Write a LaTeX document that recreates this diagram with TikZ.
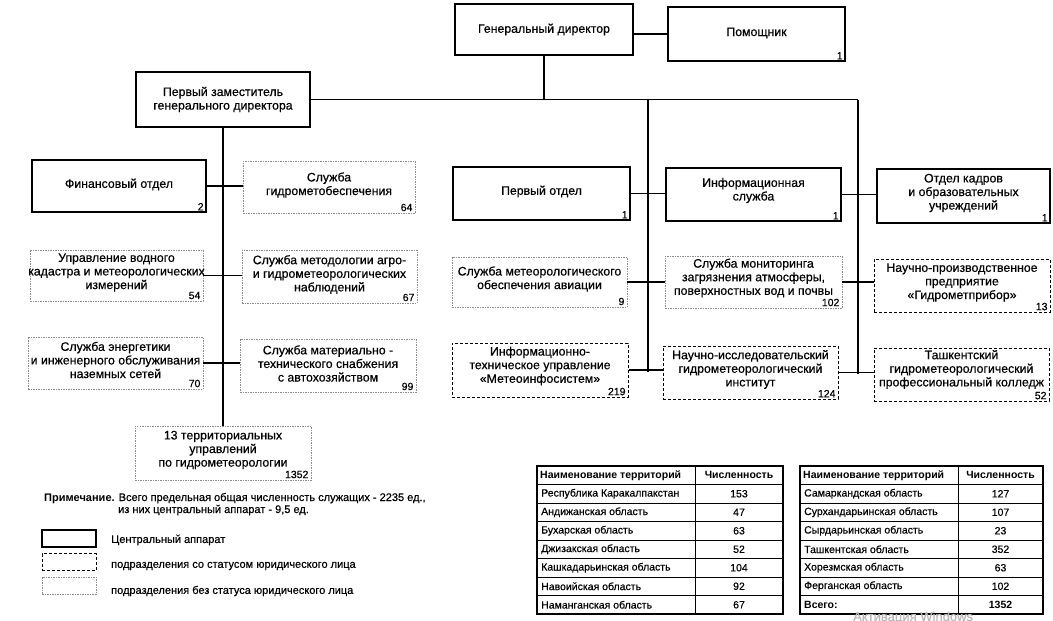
\documentclass[tikz,border=0pt]{standalone}
\usepackage{fontspec}
\setmainfont{Liberation Sans}[UprightFeatures={FakeBold=0.5}]
\usetikzlibrary{calc}
\tikzset{
  shp/.style={rectangle, inner sep=0pt},
  central/.style={shp, draw, line width=1.2pt},
  legal/.style={shp, draw, line width=1pt, dash pattern=on 3pt off 2pt},
  unit/.style={shp, draw=black!45, line width=0.8pt, dash pattern=on 1.5pt off 1pt},
  bxtext/.style={align=center, inner sep=0pt, font=\fontsize{12.3}{13.6}\selectfont},
  num/.style={anchor=south east, inner xsep=2.8pt, inner ysep=2pt, font=\fontsize{10.5}{10.5}\selectfont},
  conn/.style={line width=1.2pt},
  legtext/.style={anchor=west, inner sep=0pt, font=\fontsize{11}{12}\selectfont},
  cell/.style={inner sep=0pt, font=\fontsize{10.5}{12}\selectfont},
  hcell/.style={cell, font=\fontsize{10.5}{12}\selectfont\bfseries},
  outer/.style={line width=1.1pt},
  inner/.style={line width=0.8pt},
}
% name, style, x1, y1, x2, y2, text, upward shift of text
\newcommand\orgbox[8]{%
  \node[#2, minimum width={#5-#3}, minimum height={#6-#4}] (#1) at ({(#3+#5)/2},{(#4+#6)/2}) {};
  \node[bxtext] (#1t) at ($(#1.center)+(0,-#8)$) {#7};}
\newcommand\orgnum[2]{\node[num] (#1n) at (#1.south east) {#2};}
\begin{document}
\begin{tikzpicture}[x=1pt,y=-1pt]
\useasboundingbox (0,0) rectangle (1053,621);

% top
\orgbox{gd}{central}{455}{4}{633}{55}{Генеральный директор}{0}
\orgbox{pom}{central}{668}{7}{845}{61}{Помощник}{1}\orgnum{pom}{1}
\orgbox{fd}{central}{136}{72}{310}{127}{Первый заместитель\\генерального директора}{0}

% left block
\orgbox{fin}{central}{32}{160}{206}{212}{Финансовый отдел}{1.5}\orgnum{fin}{2}
\orgbox{ghm}{unit}{243}{161}{415}{213}{Служба\\гидрометобеспечения}{2}\orgnum{ghm}{64}
\orgbox{kad}{unit}{30}{250}{203}{301}{Управление водного\\кадастра и метеорологических\\измерений}{3}\orgnum{kad}{54}
\orgbox{mtd}{unit}{242}{250}{417}{303}{Служба методологии агро-\\и гидрометеорологических\\наблюдений}{2}\orgnum{mtd}{67}
\orgbox{enr}{unit}{28}{337}{203}{389}{Служба энергетики\\и инженерного обслуживания\\наземных сетей}{3}\orgnum{enr}{70}
\orgbox{mts}{unit}{240}{339}{416}{392}{Служба материально -\\технического снабжения\\с автохозяйством}{2}\orgnum{mts}{99}
\orgbox{ter}{unit}{135}{426}{311}{480}{13 территориальных\\управлений\\по гидрометеорологии}{3}\orgnum{ter}{1352}

% right block
\orgbox{po}{central}{453}{167}{630}{220}{Первый отдел}{2}\orgnum{po}{1}
\orgbox{inf}{central}{666}{168}{841}{221}{Информационная\\служба}{4}\orgnum{inf}{1}
\orgbox{ok}{central}{877}{169}{1050}{223}{Отдел кадров\\и образовательных\\учреждений}{3}\orgnum{ok}{1}
\orgbox{avi}{unit}{452}{257}{627}{307}{Служба метеорологического\\обеспечения авиации}{3}\orgnum{avi}{9}
\orgbox{mon}{unit}{665}{256}{842}{308}{Служба мониторинга\\загрязнения атмосферы,\\поверхностных вод и почвы}{4}\orgnum{mon}{102}
\orgbox{npp}{legal}{874}{259}{1050}{312}{Научно-производственное\\предприятие\\«Гидрометприбор»}{3}\orgnum{npp}{13}
\orgbox{itu}{legal}{452}{343}{628}{397}{Информационно-\\техническое управление\\«Метеоинфосистем»}{4}\orgnum{itu}{219}
\orgbox{nii}{legal}{663}{346}{838}{399}{Научно-исследовательский\\гидрометеорологический\\институт}{3}\orgnum{nii}{124}
\orgbox{tash}{legal}{874}{348}{1049}{401}{Ташкентский\\гидрометеорологический\\профессиональный колледж}{5}\orgnum{tash}{52}

% connectors
\coordinate (vm1) at (648,99.5);
\coordinate (vm2) at (648,372);
\coordinate (vr1) at (858,99.5);
\coordinate (vr2) at (858,374);
\draw[conn] (gd.east |- pom.west) -- (pom.west);
\draw[conn] (gd.south) -- (gd.south |- fd.east);
\draw[conn] (fd.east) -- (vr1);
\draw[conn] (vm1) -- (vm2);
\draw[conn] (vr1) -- (vr2);
\draw[conn] (po.east) -- (po.east -| inf.west);
\draw[conn] (inf.east) -- (inf.east -| ok.west);
\draw[conn] (avi.east) -- (avi.east -| mon.west);
\draw[conn] (mon.east) -- (mon.east -| npp.west);
\draw[conn] (itu.east) -- (itu.east -| nii.west);
\draw[conn] (nii.east) -- (nii.east -| tash.west);
\draw[conn] (fd.south) -- (fd.south |- ter.north);
\draw[conn] (fin.east) -- (fin.east -| ghm.west);
\draw[conn] (kad.east) -- (kad.east -| mtd.west);
\draw[conn] (enr.east) -- (enr.east -| mts.west);

% note and legend
\node[anchor=base west, inner sep=0pt, font=\fontsize{11}{12}\selectfont] (note1) at (44,501)
  {\textbf{Примечание.} Всего предельная общая численность служащих - 2235 ед.,};
\node[anchor=base west, inner sep=0pt, font=\fontsize{11}{12}\selectfont] (note2) at (118,513)
  {из них центральный аппарат - 9,5 ед.};
\node[draw, line width=1.2pt, minimum width=54, minimum height=17, inner sep=0pt] (lg1) at (69,538.5) {};
\node[draw, line width=1pt, dash pattern=on 3pt off 2pt, minimum width=54, minimum height=17, inner sep=0pt] (lg2) at (69,562) {};
\node[draw=black!45, line width=0.8pt, dash pattern=on 1.5pt off 1pt, minimum width=54, minimum height=17, inner sep=0pt] (lg3) at (69,585.5) {};
\node[legtext] (lt1) at (111,540) {Центральный аппарат};
\node[legtext] (lt2) at (111,566) {подразделения со статусом юридического лица};
\node[legtext] (lt3) at (111,591) {подразделения без статуса юридического лица};

% left table
\draw[outer] (537,466) rectangle (783,614);
\draw[inner] (695,466) -- (695,614);
\foreach \i in {1,...,7} \draw[inner] (537,{466+18.5*\i}) -- (783,{466+18.5*\i});
\node[hcell, anchor=west] (lh1) at (540,475.25) {Наименование территорий};
\node[hcell] (lh2) at (739,475.25) {Численность};
\foreach \t/\n [count=\i] in {Республика Каракалпакстан/153, Андижанская область/47, Бухарская область/63,
  Джизакская область/52, Кашкадарьинская область/104, Навоийская область/92, Наманганская область/67}{
  \node[cell, anchor=west] (lr\i) at (541,{475.25+18.5*\i}) {\t};
  \node[cell] (ln\i) at (739,{475.25+18.5*\i}) {\n};
}

% right table
\draw[outer] (800,466) rectangle (1043,614);
\draw[inner] (958,466) -- (958,614);
\foreach \i in {1,...,7} \draw[inner] (800,{466+18.5*\i}) -- (1043,{466+18.5*\i});
\node[hcell, anchor=west] (rh1) at (803,475.25) {Наименование территорий};
\node[hcell] (rh2) at (1000.5,475.25) {Численность};
\foreach \t/\n [count=\i] in {Самаркандская область/127, Сурхандарьинская область/107, Сырдарьинская область/23,
  Ташкентская область/352, Хорезмская область/63, Ферганская область/102}{
  \node[cell, anchor=west] (rr\i) at (804,{475.25+18.5*\i}) {\t};
  \node[cell] (rn\i) at (1000.5,{475.25+18.5*\i}) {\n};
}
\node[hcell, anchor=west] (rr7) at (804,{475.25+18.5*7}) {Всего:};
\node[hcell] (rn7) at (1000.5,{475.25+18.5*7}) {1352};

% watermark
\node[anchor=base west, inner sep=0pt, text=black!28, font=\fontsize{13}{13}\selectfont] (wm) at (853,621) {Активация Windows};
\end{tikzpicture}
\end{document}
